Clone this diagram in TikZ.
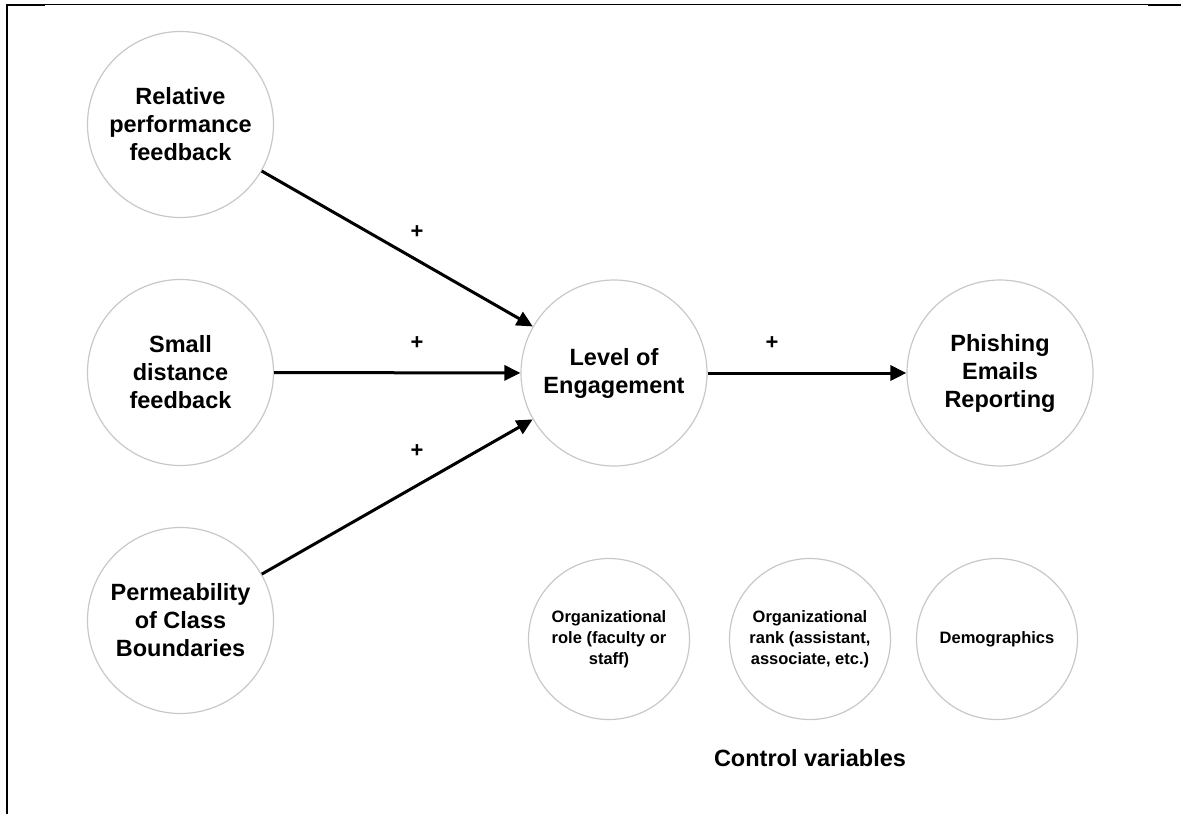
\documentclass[tikz,border=0pt]{standalone}
\usepackage{fontspec}
\setmainfont{Liberation Sans}
\usetikzlibrary{arrows.meta}
\definecolor{ringgray}{HTML}{C8C8C8}
\begin{document}
\begin{tikzpicture}[x=1pt,y=-1pt,
  bigc/.style={circle,draw=ringgray,line width=1.2pt,minimum size=186pt,inner sep=0pt,align=center,
    font=\fontsize{23.5}{28}\selectfont\bfseries},
  smallc/.style={circle,draw=ringgray,line width=1.2pt,minimum size=161pt,inner sep=0pt,align=center,
    font=\fontsize{16.5}{21}\selectfont\bfseries},
  link/.style={line width=3pt,-{Triangle[length=16pt,width=15pt]}},
  sign/.style={font=\fontsize{22}{24}\selectfont\bfseries,inner sep=0pt},
  frameline/.style={black}]
\useasboundingbox (0,0) rectangle (1181,814);
% frame
\draw[line width=1.2pt] (6,4.8) -- (1181,4.8);
\draw[line width=2.2pt] (6.8,4.2) -- (6.8,814);
\draw[line width=2.4pt] (6,5.2) -- (45,5.2);
\draw[line width=2.4pt] (1148,5.2) -- (1181,5.2);
% main nodes
\node[bigc] (R) at (180.5,124.5) {Relative\\performance\\feedback};
\node[bigc] (S) at (180.5,372.5) {Small\\distance\\feedback};
\node[bigc] (P) at (180.5,620.5) {Permeability\\of Class\\Boundaries};
\node[bigc] (L) at (614,373) {Level of\\Engagement};
\node[bigc] (E) at (1000,373) {Phishing\\Emails\\Reporting};
% control variables
\node[smallc] (A) at (609,639) {Organizational\\role (faculty or\\staff)};
\node[smallc] (B) at (810,639) {Organizational\\rank (assistant,\\associate, etc.)};
\node[smallc] (C) at (997,639) {Demographics};
\node[font=\fontsize{23.5}{28}\selectfont\bfseries] (cv) at (810,758) {Control variables};
% connectors
\draw[link] (R) -- (L);
\draw[link] (S) -- (L);
\draw[link] (P) -- (L);
\draw[link] (L) -- (E);
% signs
\node[sign] (s1) at (417,232) {+};
\node[sign] (s2) at (417,343) {+};
\node[sign] (s3) at (417,451) {+};
\node[sign] (s4) at (772,343) {+};
\end{tikzpicture}
\end{document}
